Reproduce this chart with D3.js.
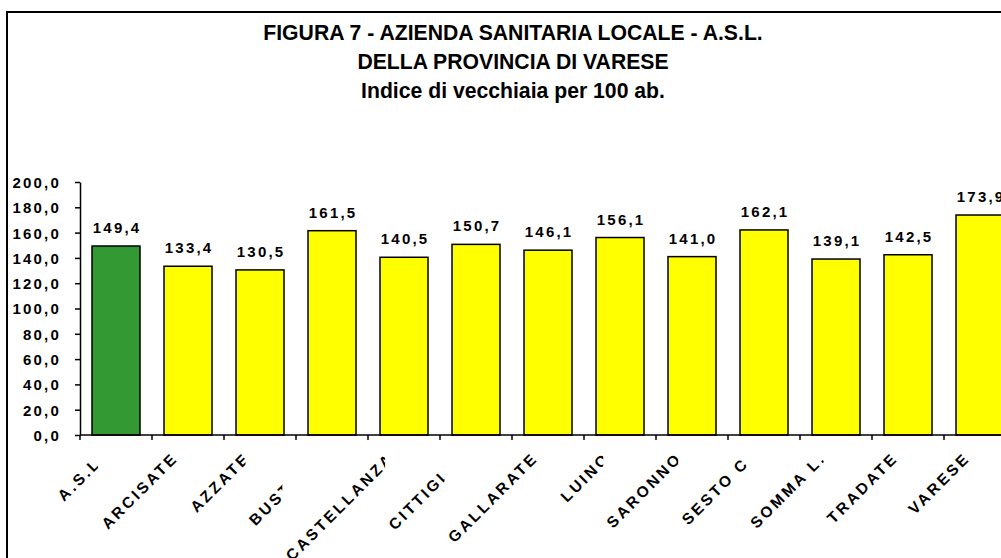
<html>

<head>
    <title>Indice di vecchiaia</title>
    <style>
        body {
            margin: 0;
            background: white;
        }

        text {
            font-family: "Liberation Sans", Arial, sans-serif;
            font-weight: bold;
            fill: black;
        }
    </style>
</head>

<body>
    <script src="https://cdn.jsdelivr.net/npm/d3@7/dist/d3.min.js"></script>
    <script type="text/javascript">
        var width = 1001;
        var height = 558;

        // dati
        var titleLines = ["FIGURA 7 - AZIENDA SANITARIA LOCALE - A.S.L.", "DELLA PROVINCIA DI VARESE", "Indice di vecchiaia per 100 ab."];
        var categories = ["A.S.L.", "ARCISATE", "AZZATE", "BUSTO A.", "CASTELLANZA", "CITTIGLIO", "GALLARATE",
            "LUINO", "SARONNO", "SESTO C.", "SOMMA L.", "TRADATE", "VARESE"];
        var values = [149.4, 133.4, 130.5, 161.5, 140.5, 150.7, 146.1, 156.1, 141.0, 162.1, 139.1, 142.5, 173.9];
        var yTicks = [0, 20, 40, 60, 80, 100, 120, 140, 160, 180, 200];

        var fmt = function (v) { return v.toFixed(1).replace(".", ","); };

        var svg = d3.select("body")
            .append("svg")
            .attr("width", width)
            .attr("height", height);

        // cornice
        svg.append("rect")
            .attr("x", 7)
            .attr("y", 12)
            .attr("width", 1100)
            .attr("height", 600)
            .style("fill", "white")
            .style("stroke", "black")
            .style("stroke-width", 2);

        // titolo
        svg.selectAll(".title")
            .data(titleLines)
            .enter()
            .append("text")
            .attr("class", "title")
            .attr("x", 513)
            .attr("y", function (d, i) { return 40 + i * 29; })
            .attr("text-anchor", "middle")
            .style("font-size", "21.2px")
            .text(function (d) { return d; });

        var x = d3.scaleBand()
            .domain(categories)
            .range([80, 80 + 72 * categories.length])
            .paddingInner(1 / 3)
            .paddingOuter(1 / 6);

        var y = d3.scaleLinear()
            .domain([0, 200])
            .range([435, 182]);

        // asse y
        var yAxis = svg.append("g")
            .attr("transform", "translate(80,0)")
            .call(d3.axisLeft(y)
                .tickValues(yTicks)
                .tickFormat(fmt)
                .tickSize(5)
                .tickSizeOuter(0)
                .tickPadding(14));
        yAxis.select(".domain").style("stroke", "black").style("stroke-width", 1.5);
        yAxis.selectAll(".tick line").style("stroke", "black").style("stroke-width", 1.5);
        yAxis.selectAll(".tick text")
            .attr("dy", "0.36em")
            .style("font-size", "15px")
            .style("letter-spacing", "2.2px")
            .style("font-family", "'Liberation Sans', Arial, sans-serif")
            .style("font-weight", "bold");

        // barre
        svg.selectAll(".bar")
            .data(values)
            .enter()
            .append("rect")
            .attr("class", "bar")
            .attr("x", function (d, i) { return x(categories[i]); })
            .attr("y", function (d) { return y(d); })
            .attr("width", x.bandwidth())
            .attr("height", function (d) { return y(0) - y(d); })
            .style("fill", function (d, i) { return i == 0 ? "#339933" : "#ffff00"; })
            .style("stroke", "black")
            .style("stroke-width", 1.5);

        // etichette valori
        svg.selectAll(".val")
            .data(values)
            .enter()
            .append("text")
            .attr("class", "val")
            .attr("x", function (d, i) { return x(categories[i]) + x.bandwidth() / 2 + 1.1; })
            .attr("y", function (d) { return y(d) - 13; })
            .attr("text-anchor", "middle")
            .style("font-size", "15px")
            .style("letter-spacing", "2.2px")
            .text(fmt);

        // asse x
        var gap = (x.step() - x.bandwidth()) / 2;
        svg.append("line")
            .attr("x1", x.range()[0])
            .attr("x2", x.range()[1])
            .attr("y1", y(0))
            .attr("y2", y(0))
            .style("stroke", "black")
            .style("stroke-width", 1.5);
        svg.selectAll(".xtick")
            .data(categories)
            .enter()
            .append("line")
            .attr("class", "xtick")
            .attr("x1", function (d) { return x(d) - gap; })
            .attr("x2", function (d) { return x(d) - gap; })
            .attr("y1", y(0))
            .attr("y2", y(0) + 5)
            .style("stroke", "black")
            .style("stroke-width", 1.5);

        // etichette categorie, ognuna con il suo riquadro bianco che copre la precedente
        categories.forEach(function (c) {
            var g = svg.append("g");
            g.append("text")
                .attr("transform", "translate(" + (x(c) + x.bandwidth() / 2 - 9) + ",459) rotate(-45)")
                .attr("text-anchor", "end")
                .style("font-size", "15.5px")
                .style("letter-spacing", "2.8px")
                .text(c);
            var b = g.node().getBBox();
            g.insert("rect", "text")
                .attr("x", b.x)
                .attr("y", b.y)
                .attr("width", b.width)
                .attr("height", b.height)
                .style("fill", "white");
        });
    </script>

</body>

</html>
